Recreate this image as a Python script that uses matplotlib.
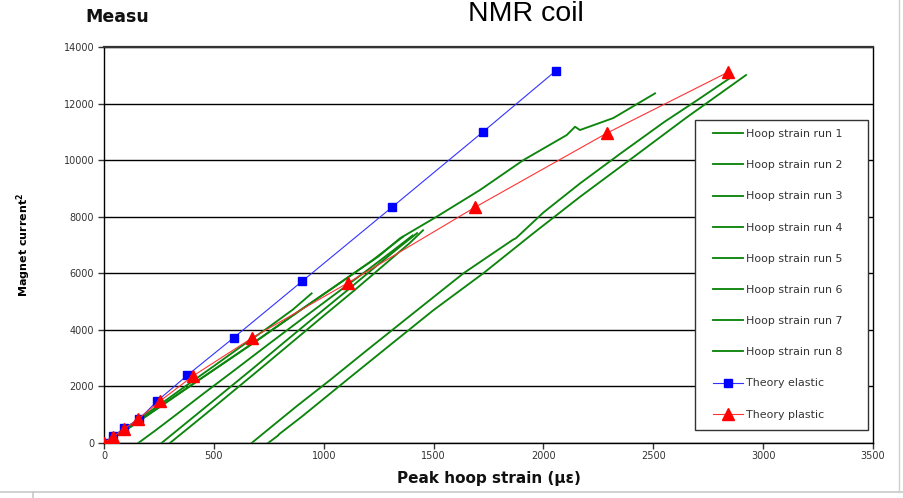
import matplotlib
matplotlib.use("Agg")
import matplotlib.pyplot as plt
from matplotlib.lines import Line2D
from matplotlib.patches import Rectangle

# ---------------- data ----------------
elastic_x = [0, 41, 92, 160, 243, 380, 590, 902, 1313, 1725, 2055]
elastic_y = [0, 250, 520, 850, 1490, 2400, 3720, 5720, 8350, 11000, 13150]

plastic_x = [0, 41, 92, 156, 256, 407, 673, 1110, 1690, 2290, 2840]
plastic_y = [0, 220, 500, 850, 1490, 2380, 3710, 5660, 8340, 10960, 13110]

run1_x = [0, 60, 150, 260, 380, 500, 620, 740, 860, 945]
run1_y = [0, 300, 800, 1390, 2060, 2720, 3390, 4040, 4720, 5290]

run2_x = [0, 80, 200, 350, 520, 700, 880, 1050, 1220, 1361]
run2_y = [0, 380, 1000, 1800, 2690, 3640, 4620, 5530, 6450, 7293]

run3_x = [156, 230, 330, 450, 600, 750, 900, 1050, 1200, 1320, 1405]
run3_y = [0, 420, 1010, 1730, 2610, 3500, 4380, 5250, 6120, 6830, 7340]

run4_x = [0, 120, 300, 500, 700, 900, 1100, 1250, 1347, 1514, 1711, 1909, 2106, 2144, 2166, 2318, 2508]
run4_y = [0, 560, 1520, 2590, 3650, 4730, 5800, 6600, 7236, 8000, 8943, 10003, 10887, 11181, 11064, 11488, 12361]

run5_x = [262, 330, 420, 540, 680, 820, 960, 1100, 1240, 1350, 1425]
run5_y = [0, 430, 1000, 1760, 2650, 3560, 4460, 5350, 6260, 6960, 7420]

run6_x = [300, 370, 460, 580, 720, 860, 1000, 1140, 1280, 1390, 1452]
run6_y = [0, 440, 1010, 1780, 2680, 3590, 4500, 5400, 6330, 7060, 7520]

run7_x = [672, 760, 880, 1029, 1200, 1400, 1636, 1860, 1875, 2000, 2167, 2350, 2550, 2700, 2849]
run7_y = [0, 560, 1320, 2227, 3300, 4540, 6000, 7180, 7240, 8150, 9180, 10230, 11350, 12120, 12902]

run8_x = [747, 790, 800, 900, 1105, 1300, 1500, 1726, 1950, 2167, 2400, 2650, 2922]
run8_y = [0, 250, 330, 930, 2227, 3450, 4700, 5998, 7390, 8706, 10050, 11500, 13008]

runs = [(run1_x, run1_y), (run2_x, run2_y), (run3_x, run3_y), (run4_x, run4_y),
        (run5_x, run5_y), (run6_x, run6_y), (run7_x, run7_y), (run8_x, run8_y)]
run_labels = ["Hoop strain run %d" % i for i in range(1, 9)]

x_ticks = [0, 500, 1000, 1500, 2000, 2500, 3000, 3500]
y_ticks = [0, 2000, 4000, 6000, 8000, 10000, 12000, 14000]

# ---------------- figure ----------------
plt.rcParams['font.family'] = ['DejaVu Sans']
W, H = 904, 498
fig = plt.figure(figsize=(W / 100, H / 100), dpi=100)
L, R, T, B = 104, 873, 47, 443
ax = fig.add_axes([L / W, 1 - B / H, (R - L) / W, (B - T) / H])

ax.set_xlim(0, 3500)
ax.set_ylim(0, 14000)
ax.set_xticks(x_ticks)
ax.set_yticks(y_ticks)
ax.tick_params(direction='out', length=4, width=1, labelsize=7, colors='#333333', pad=3)
ax.tick_params(axis='x', pad=2)
ax.yaxis.grid(True, color='black', linewidth=1.0)
ax.set_axisbelow(True)
for s in ax.spines.values():
    s.set_color('black')
    s.set_linewidth(1.0)
ax.spines['top'].set_linewidth(1.6)
ax.spines['top'].set_color('#333333')

green = '#0d850d'
for (rx, ry), lab in zip(runs, run_labels):
    ax.plot(rx, ry, color=green, linewidth=1.35, label=lab, zorder=3)

ax.plot(elastic_x, elastic_y, color='#3333ff', linewidth=0.8, marker='s',
        markersize=6, markerfacecolor='#0000ff', markeredgecolor='#0000ff',
        label='Theory elastic', zorder=4)
ax.plot(plastic_x, plastic_y, color='#ff3333', linewidth=0.8, marker='^',
        markersize=8, markerfacecolor='#ff0000', markeredgecolor='#ff0000',
        label='Theory plastic', zorder=5)

# legend frame drawn as an explicit box, entries placed inside it
def ax_x(px):
    return (px - L) / (R - L)

def ax_y(py):
    return (B - py) / (B - T)

frame = Rectangle((ax_x(695), ax_y(430)), ax_x(868) - ax_x(695), ax_y(120) - ax_y(430),
                  transform=ax.transAxes, facecolor='white', edgecolor='#333333',
                  linewidth=1.0, zorder=9, clip_on=False)
ax.add_patch(frame)
leg = ax.legend(loc='upper left', bbox_to_anchor=(ax_x(713), ax_y(129)),
                fontsize=7.9, frameon=False, labelspacing=1.93,
                handlelength=2.75, handletextpad=0.3, borderpad=0,
                borderaxespad=0)
for t in leg.get_texts():
    t.set_color('#333333')
leg.set_zorder(10)

ax.set_xlabel('Peak hoop strain (με)', fontsize=11, fontweight='bold', labelpad=7, color='#111111')
ax.set_ylabel('Magnet current$^{\\mathbf{2}}$', fontsize=8, fontweight='bold', labelpad=22)

fig.text(526 / W, 1 - 21 / H, 'NMR coil', fontsize=20.5, ha='center', va='baseline',
         family='Liberation Sans')
fig.text(85 / W, 1 - 22 / H, 'Measu', fontsize=12.5, fontweight='bold', ha='left',
         va='baseline', color='#111111')

# light frame lines at the bottom / right
fig.add_artist(Line2D([0, 1], [1 - 492 / H, 1 - 492 / H], color='#c8c8c8', linewidth=1.2))
fig.add_artist(Line2D([33 / W, 33 / W], [0, 1 - 492 / H], color='#c8c8c8', linewidth=1.2))
fig.add_artist(Line2D([899 / W, 899 / W], [1 - 492 / H, 1], color='#d0d0d0', linewidth=1.0))

fig.savefig('out.png', dpi=100)
